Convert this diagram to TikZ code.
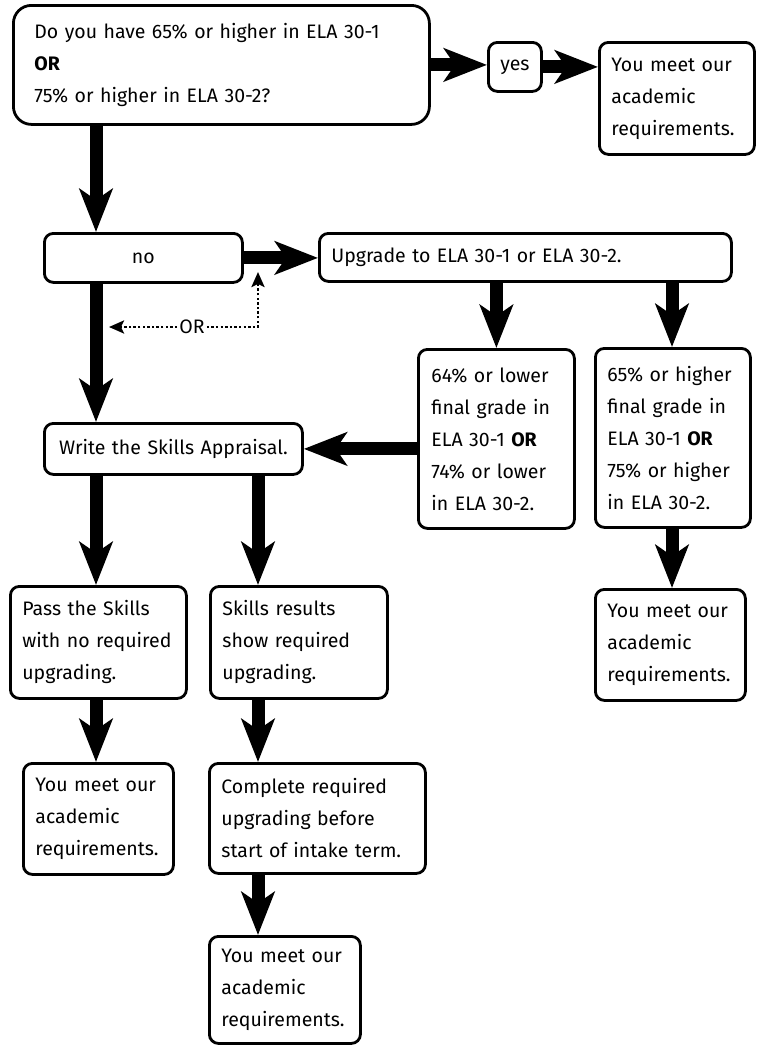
\documentclass[tikz,border=0pt]{standalone}
\usepackage{fontspec}
\setmainfont{Fira Sans}
\usetikzlibrary{arrows.meta}

\begin{document}
\begin{tikzpicture}[x=1pt, y=-1pt,
  font=\fontsize{19.5}{32}\selectfont,
  box/.style={draw=black, line width=2.8pt, rounded corners=9pt, anchor=north west,
    inner xsep=12pt, inner ysep=0pt, align=left},
  bigbox/.style={box, rounded corners=18pt, inner xsep=21pt},
  thick arrow/.style={line width=13pt, -{Stealth[length=43pt, width=33pt, inset=11pt]}},
  dot arrow/.style={line width=2.6pt, dash pattern=on 2.4pt off 2.2pt, -{Stealth[length=15pt, width=13pt, inset=3pt]}}]
\useasboundingbox (0, 0) rectangle (759, 1045);

\node [bigbox, minimum width=416, minimum height=119, text width=374] (q) at (12, 4)
  {Do you have 65\% or higher in ELA 30-1\\ \textbf{OR}\\ 75\% or higher in ELA 30-2?};
\node [box, minimum width=53, minimum height=49, align=center, inner xsep=0pt] (yes) at (487, 41) {yes};
\node [box, minimum width=155, minimum height=112, text width=131] (ok1) at (598, 41)
  {You meet our\\ academic\\ requirements.};

\node [box, minimum width=198, minimum height=49, text width=174, align=center] (no) at (43, 232) {no};
\node [box, minimum width=412, minimum height=48, text width=388] (upg) at (318, 232)
  {Upgrade to ELA 30-1 or ELA 30-2.};

\node [box, minimum width=156, minimum height=179, text width=130, inner xsep=13pt] (low) at (417, 348)
  {64\% or lower\\ final grade in\\ ELA 30-1 \textbf{OR}\\ 74\% or lower\\ in ELA 30-2.};
\node [box, minimum width=155, minimum height=179, text width=131] (high) at (594, 347)
  {65\% or higher\\ final grade in\\ ELA 30-1 \textbf{OR}\\ 75\% or higher\\ in ELA 30-2.};
\node [box, minimum width=150, minimum height=111, text width=126] (ok2) at (594, 588)
  {You meet our\\ academic\\ requirements.};

\node [box, minimum width=258, minimum height=51, text width=234, align=center] (skills) at (43, 422)
  {Write the Skills Appraisal.};
\node [box, minimum width=176, minimum height=112, text width=152] (pass) at (9, 585)
  {Pass the Skills\\ with no required\\ upgrading.};
\node [box, minimum width=177, minimum height=112, text width=153] (res) at (209, 585)
  {Skills results\\ show required\\ upgrading.};
\node [box, minimum width=150, minimum height=111, text width=126] (ok3) at (22, 762)
  {You meet our\\ academic\\ requirements.};
\node [box, minimum width=216, minimum height=110, text width=192] (compl) at (208, 762)
  {Complete required\\ upgrading before\\ start of intake term.};
\node [box, minimum width=151, minimum height=107, text width=127] (ok4) at (208, 935)
  {You meet our\\ academic\\ requirements.};

% columns of the down arrows
\coordinate (colA) at (96, 0);
\coordinate (colB) at (258, 0);
\coordinate (colD) at (672, 0);

\draw [thick arrow] (q.east) -- (q.east -| yes.west);
\draw [thick arrow] (yes.east) -- (yes.east -| ok1.west);
\draw [thick arrow] (q.south -| colA) -- (no.north -| colA);
\draw [thick arrow] (no.east) -- (no.east -| upg.west);
\draw [thick arrow] (upg.south -| low.north) -- (low.north);
\draw [thick arrow] (upg.south -| colD) -- (high.north -| colD);
\draw [thick arrow] (high.south -| colD) -- (ok2.north -| colD);
\draw [thick arrow] (no.south -| colA) -- (skills.north -| colA);
\draw [thick arrow] (low.west |- skills.east) -- (skills.east);
\draw [thick arrow] (skills.south -| colA) -- (pass.north -| colA);
\draw [thick arrow] (skills.south -| colB) -- (res.north -| colB);
\draw [thick arrow] (pass.south -| colA) -- (ok3.north -| colA);
\draw [thick arrow] (res.south -| colB) -- (compl.north -| colB);
\draw [thick arrow] (compl.south -| colB) -- (ok4.north -| colB);

% the dotted OR
\node [inner sep=2pt] (orl) at (192, 327) {OR};
\coordinate (orleft) at (109, 327);
\coordinate (orup) at (258, 272);
\draw [dot arrow] (orl.west) -- (orleft);
\draw [dot arrow] (orl.east) -| (orup);
\end{tikzpicture}
\end{document}
